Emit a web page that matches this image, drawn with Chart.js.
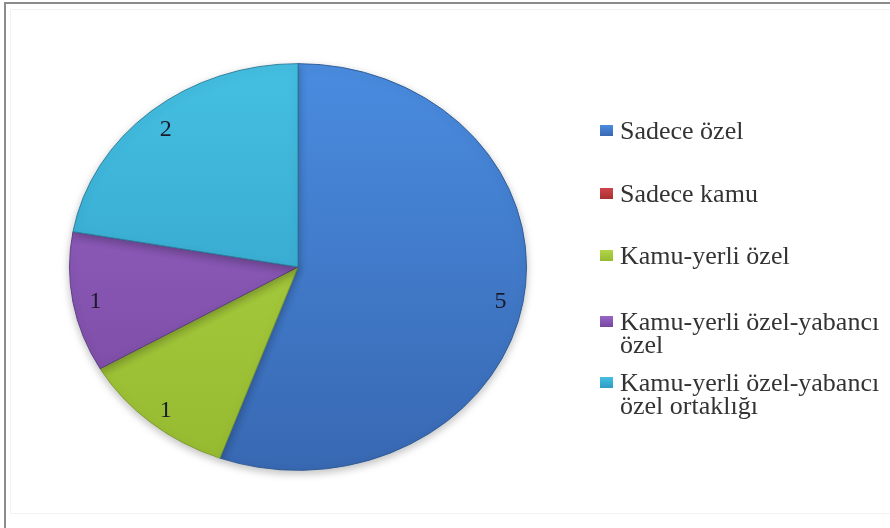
<!DOCTYPE html>
<html>
<head>
<meta charset="utf-8">
<script src="https://cdn.jsdelivr.net/npm/chart.js@4/dist/chart.umd.min.js"></script>
<style>
  body { margin: 0; background: #fff; }
  #wrap { position: relative; width: 890px; height: 528px; overflow: hidden; }
  #frame { position: absolute; left: 4px; top: 2px; right: -4px; bottom: -4px;
           border-left: 2px solid #8c8c8c; border-top: 2px solid #8c8c8c; }
  #inner { position: absolute; left: 10px; top: 9px; right: -4px; bottom: 14px;
           border: 1px solid #f2f2f2; }
  canvas { position: absolute; left: 0; top: 0; }
  #legend { position: absolute; left: 600px; top: 0; font-family: "Liberation Serif", "Times New Roman", serif;
            font-size: 26px; color: #333; line-height: 23px; }
  .item { position: absolute; left: 0; width: 290px; padding-left: 20px; white-space: nowrap; }
  .box { position: absolute; left: 0; top: 6px; width: 13px; height: 11px; }
</style>
</head>
<body>
<div id="wrap">
  <div id="frame"></div>
  <div id="inner"></div>
  <canvas id="pie" width="890" height="528"></canvas>
  <div id="legend"></div>
</div>
<script>
// categories and counts, clockwise from 12 o'clock
var labels = ['Sadece özel', 'Sadece kamu', 'Kamu-yerli özel', 'Kamu-yerli özel-yabancı özel', 'Kamu-yerli özel-yabancı özel ortaklığı'];
var values = [5, 0, 1, 1, 2];
// legend text split the way it wraps
var legendLines = [['Sadece özel'], ['Sadece kamu'], ['Kamu-yerli özel'], ['Kamu-yerli özel-yabancı', 'özel'], ['Kamu-yerli özel-yabancı', 'özel ortaklığı']];
var legendTops = [119, 182, 244, 310, 371];
// fill colours: light top / dark bottom, plus edge
var topColors = ['#4a8ce0', '#d0454a', '#b2d647', '#9866c8', '#44bfe2'];
var bottomColors = ['#3868b2', '#a8302f', '#95ba30', '#76479e', '#2f9cc2'];
var edgeColors = ['#2d5a95', '#8a2a2a', '#7a9a2a', '#5e3a80', '#2a7d9c'];

var squash = 0.89; // vertical flattening of the pie

var ellipse = {
  id: 'ellipse',
  beforeDatasetsDraw: function (chart) {
    var a = chart.chartArea, ctx = chart.ctx;
    var cx = (a.left + a.right) / 2, cy = (a.top + a.bottom) / 2;
    ctx.save();
    ctx.translate(cx, cy);
    ctx.scale(1, squash);
    ctx.translate(-cx, -cy);
    ctx.shadowColor = 'rgba(0,0,0,0.25)';
    ctx.shadowBlur = 8;
    ctx.shadowOffsetY = 3;
  },
  afterDatasetsDraw: function (chart) {
    var ctx = chart.ctx;
    ctx.restore();
    // value labels inside each slice
    var arcs = chart.getDatasetMeta(0).data;
    ctx.save();
    ctx.font = '24px "Liberation Serif", serif';
    ctx.fillStyle = '#1a1a2a';
    ctx.textAlign = 'center';
    ctx.textBaseline = 'middle';
    arcs.forEach(function (arc, i) {
      if (!values[i]) return;
      var p = arc.getProps(['x', 'y', 'startAngle', 'endAngle', 'outerRadius']);
      var mid = (p.startAngle + p.endAngle) / 2;
      var r = p.outerRadius * 0.9;
      ctx.fillText(String(values[i]), p.x + Math.cos(mid) * r, p.y + Math.sin(mid) * r * squash + 3);
    });
    ctx.restore();
  }
};

new Chart(document.getElementById('pie'), {
  type: 'pie',
  data: {
    labels: labels,
    datasets: [{
      data: values,
      backgroundColor: function (c) {
        var a = c.chart.chartArea;
        if (!a) return topColors[c.dataIndex];
        var g = c.chart.ctx.createLinearGradient(0, a.top, 0, a.bottom);
        g.addColorStop(0, topColors[c.dataIndex]);
        g.addColorStop(1, bottomColors[c.dataIndex]);
        return g;
      },
      borderColor: edgeColors,
      borderWidth: function (c) { return values[c.dataIndex] ? 1 : 0; }
    }]
  },
  options: {
    responsive: false,
    animation: false,
    layout: { padding: { left: 68, right: 362, top: 38, bottom: 32 } },
    plugins: { legend: { display: false }, tooltip: { enabled: false } }
  },
  plugins: [ellipse]
});

var legend = document.getElementById('legend');
labels.forEach(function (name, i) {
  var item = document.createElement('div');
  item.className = 'item';
  item.style.top = legendTops[i] + 'px';
  var box = document.createElement('span');
  box.className = 'box';
  box.style.background = 'linear-gradient(' + topColors[i] + ',' + bottomColors[i] + ')';
  item.appendChild(box);
  item.innerHTML += legendLines[i].join('<br>');
  legend.appendChild(item);
});
</script>
</body>
</html>
